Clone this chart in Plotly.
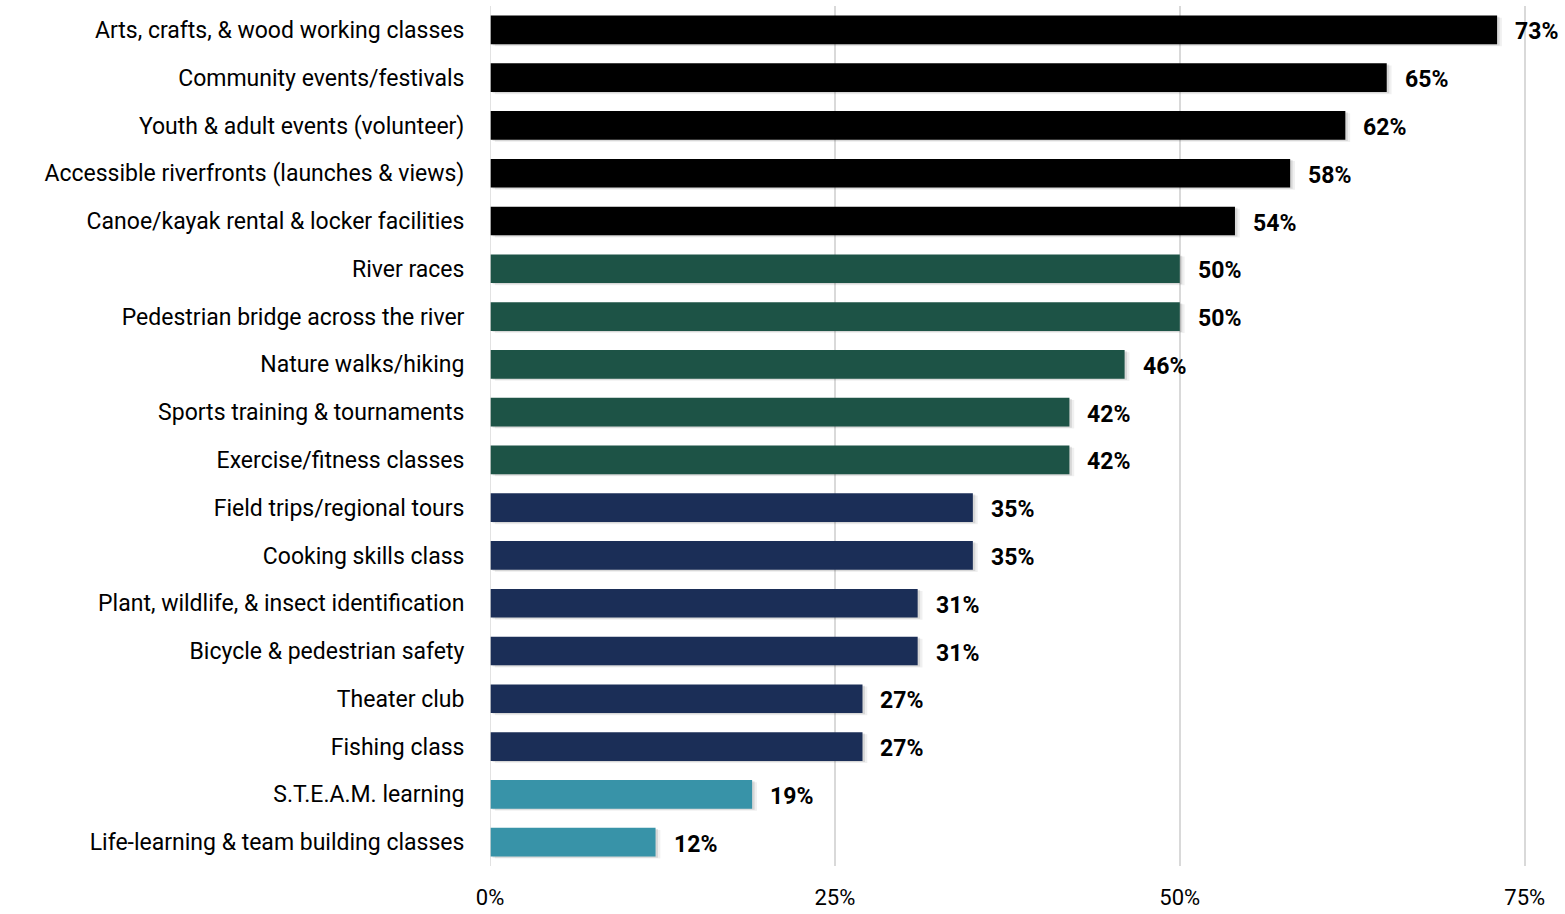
import plotly.graph_objects as go

categories = [
    "Arts, crafts, & wood working classes",
    "Community events/festivals",
    "Youth & adult events (volunteer)",
    "Accessible riverfronts (launches & views)",
    "Canoe/kayak rental & locker facilities",
    "River races",
    "Pedestrian bridge across the river",
    "Nature walks/hiking",
    "Sports training & tournaments",
    "Exercise/fitness classes",
    "Field trips/regional tours",
    "Cooking skills class",
    "Plant, wildlife, & insect identification",
    "Bicycle & pedestrian safety",
    "Theater club",
    "Fishing class",
    "S.T.E.A.M. learning",
    "Life-learning & team building classes",
]
values = [73, 65, 62, 58, 54, 50, 50, 46, 42, 42, 35, 35, 31, 31, 27, 27, 19, 12]
groups = ["top"] * 5 + ["high"] * 5 + ["mid"] * 6 + ["low"] * 2
group_colors = {"top": "#000000", "high": "#1D5346", "mid": "#1B2E57", "low": "#3893A8"}
bar_colors = [group_colors[g] for g in groups]
x_ticks = [0, 25, 50, 75]
x_tick_labels = ["0%", "25%", "50%", "75%"]

fig = go.Figure()

# soft drop shadow (two faint layers) offset right/down behind each bar
for base, off, alpha in [(0.35, -0.345, 0.06), (0.18, -0.325, 0.10)]:
    fig.add_trace(go.Bar(
        y=categories, x=values, base=base, orientation="h",
        marker=dict(color=f"rgba(0,0,0,{alpha})", line=dict(width=0)),
        width=0.6, offset=off, hoverinfo="skip", showlegend=False,
    ))
fig.add_trace(go.Bar(
    y=categories, x=values, orientation="h",
    marker=dict(color=bar_colors, line=dict(width=0)),
    width=0.6, offset=-0.3, showlegend=False,
))

for c, v in zip(categories, values):
    fig.add_annotation(
        x=v, y=c, text=f"<b>{v}%</b>", showarrow=False,
        xanchor="left", xshift=16, yshift=-2,
        font=dict(family="Roboto", size=23, color="#000000"),
    )

fig.update_layout(
    width=1565, height=914,
    margin=dict(l=490, r=21, t=6, b=48),
    paper_bgcolor="white", plot_bgcolor="white",
    barmode="overlay",
    font=dict(family="Roboto", size=23, color="#000000"),
)
fig.update_xaxes(
    range=[0, 76.4], tickvals=x_ticks, ticktext=x_tick_labels,
    showgrid=True, gridcolor="#D9D9D9", gridwidth=1.5,
    zeroline=False, showline=False, automargin=False,
    ticks="outside", ticklen=12, tickcolor="rgba(0,0,0,0)",
    tickfont=dict(family="Roboto", size=22, color="#000000"),
)
fig.update_yaxes(
    categoryorder="array", categoryarray=categories[::-1],
    range=[-0.5, 17.5], automargin=False,
    showgrid=False, zeroline=False, showline=False,
    ticks="outside", ticklen=20, tickcolor="rgba(0,0,0,0)",
    tickfont=dict(family="Roboto", size=23, color="#000000"),
)
fig.add_shape(type="line", xref="x", yref="paper", x0=0, x1=0, y0=0, y1=1,
              line=dict(color="#D9D9D9", width=1.5))

fig.write_html("out.html")
